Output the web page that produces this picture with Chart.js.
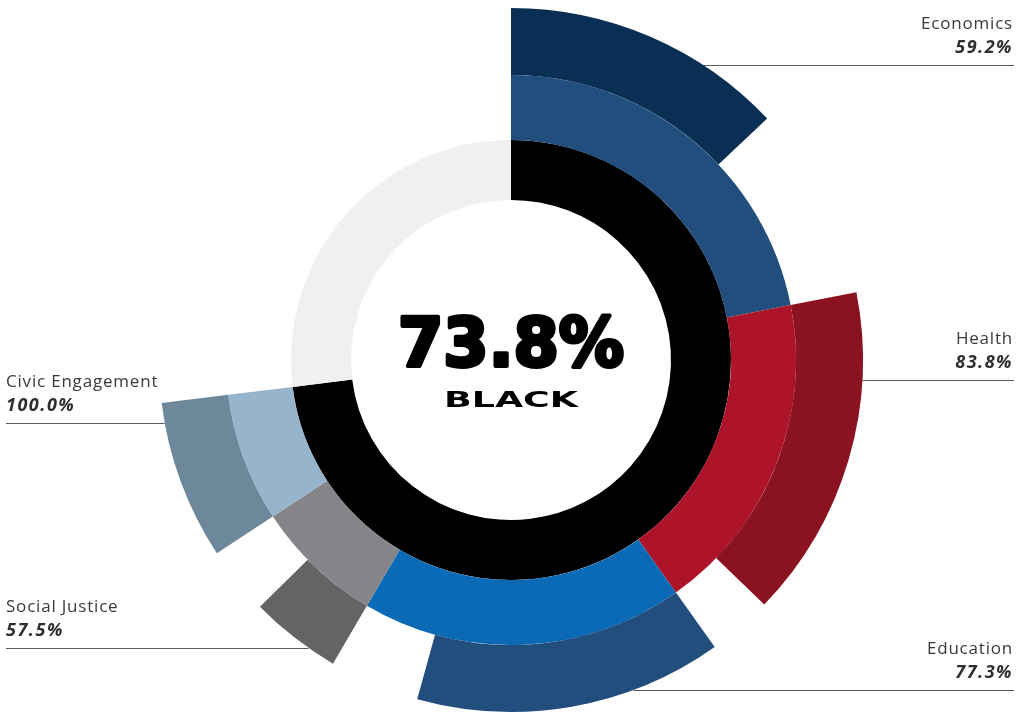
<!DOCTYPE html>
<html>
<head>
<meta charset="utf-8">
<script src="https://cdn.jsdelivr.net/npm/chart.js@4/dist/chart.umd.min.js"></script>
<style>
  html, body { margin: 0; padding: 0; background: #fff; }
  #wrap { width: 1026px; height: 715px; position: relative; }
</style>
</head>
<body>
<div id="wrap"><canvas id="myChart" width="1026" height="715"></canvas></div>
<script>
// data
var categories = ["Economics", "Health", "Education", "Social Justice", "Civic Engagement"];
var values = [59.2, 83.8, 77.3, 57.5, 100.0];      // score of each category (%)
var weights = [30, 25, 25, 10, 10];                // share of the index taken by each category (%)
var indexLabel = "73.8%";
var groupLabel = "BLACK";
var ringShare = 73.05;                             // part of the circle filled by the black ring (%)

var midColors = ["#224e7e", "#ae1429", "#0b6ab5", "#858589", "#96b4cb"];
var outerColors = ["#0a2f55", "#8b1220", "#224e7e", "#646466", "#6e889b"];
var clear = "rgba(0,0,0,0)";

// build the three rings
var midData = [], midBg = [];
var outerData = [], outerBg = [];
for (let i = 0; i < categories.length; i++) {
    let span = weights[i] * ringShare / 100;
    let filled = span * values[i] / 100;
    midData.push(span);
    midBg.push(midColors[i]);
    outerData.push(filled);
    outerBg.push(outerColors[i]);
    if (span - filled > 0) {
        outerData.push(span - filled);
        outerBg.push(clear);
    }
}
midData.push(100 - ringShare);
midBg.push(clear);
outerData.push(100 - ringShare);
outerBg.push(clear);

// where the labels sit
var labelPos = [
    { side: "right", y: 65 },
    { side: "right", y: 380 },
    { side: "right", y: 690 },
    { side: "left", y: 648 },
    { side: "left", y: 423 },
];

var labelPlugin = {
    id: "labels",
    beforeDatasetsDraw(chart) {
        const ctx = chart.ctx;
        const arc = chart.getDatasetMeta(0).data[0];
        const cx = arc.x, cy = arc.y, r = arc.outerRadius;
        ctx.save();
        for (let i = 0; i < categories.length; i++) {
            let p = labelPos[i];
            let dy = p.y - cy;
            let dx = Math.sqrt(Math.max(r * r - dy * dy, 0));
            ctx.strokeStyle = "#5a5a5a";
            ctx.lineWidth = 1;
            ctx.beginPath();
            if (p.side == "right") {
                ctx.moveTo(cx + dx, p.y + 0.5);
                ctx.lineTo(1014, p.y + 0.5);
            } else {
                ctx.moveTo(6, p.y + 0.5);
                ctx.lineTo(cx - dx, p.y + 0.5);
            }
            ctx.stroke();
            let tx = p.side == "right" ? 1013 : 6;
            ctx.textAlign = p.side == "right" ? "right" : "left";
            ctx.textBaseline = "alphabetic";
            ctx.fillStyle = "#3a3a3a";
            ctx.font = "17px 'Open Sans'";
            ctx.letterSpacing = "0.8px";
            ctx.fillText(categories[i], tx, p.y - 36);
            ctx.fillStyle = "#2e2e2e";
            ctx.font = "italic bold 18px 'Open Sans'";
            ctx.letterSpacing = "1.5px";
            ctx.fillText(values[i].toFixed(1) + "%", tx, p.y - 12);
        }
        ctx.restore();
    },
    afterDraw(chart) {
        const ctx = chart.ctx;
        const arc = chart.getDatasetMeta(0).data[0];
        const cx = arc.x;
        ctx.save();
        ctx.fillStyle = "#000";
        ctx.strokeStyle = "#000";
        ctx.textAlign = "center";
        ctx.textBaseline = "alphabetic";
        // big number, stretched to the width seen in the picture
        ctx.font = "bold 68px 'DejaVu Sans'";
        let w = ctx.measureText(indexLabel).width;
        ctx.save();
        ctx.translate(cx, 366);
        ctx.scale(226 / w, 1);
        ctx.lineWidth = 4;
        ctx.lineJoin = "round";
        ctx.fillText(indexLabel, 0, 0);
        ctx.strokeText(indexLabel, 0, 0);
        ctx.restore();
        ctx.font = "bold 22px 'DejaVu Sans'";
        w = ctx.measureText(groupLabel).width;
        ctx.save();
        ctx.translate(cx, 407);
        ctx.scale(134 / w, 1);
        ctx.fillText(groupLabel, 0, 0);
        ctx.restore();
        ctx.restore();
    },
};

var config = {
    type: "doughnut",
    data: {
        datasets: [
            { data: outerData, backgroundColor: outerBg, weight: 67 },
            { data: midData, backgroundColor: midBg, weight: 65 },
            { data: [ringShare, 100 - ringShare], backgroundColor: ["#000000", "#f0f0f0"], weight: 60 },
        ],
    },
    options: {
        responsive: false,
        animation: false,
        cutout: 160,
        borderWidth: 0,
        hoverBorderWidth: 0,
        hoverOffset: 0,
        layout: { padding: { left: 158, right: 162, top: 8, bottom: 3 } },
        elements: { arc: { borderWidth: 0, hoverBorderWidth: 0 } },
        plugins: {
            legend: { display: false },
            tooltip: { enabled: false },
        },
        events: [],
    },
    plugins: [labelPlugin],
};

var myChart = new Chart(document.getElementById("myChart"), config);
</script>
</body>
</html>
